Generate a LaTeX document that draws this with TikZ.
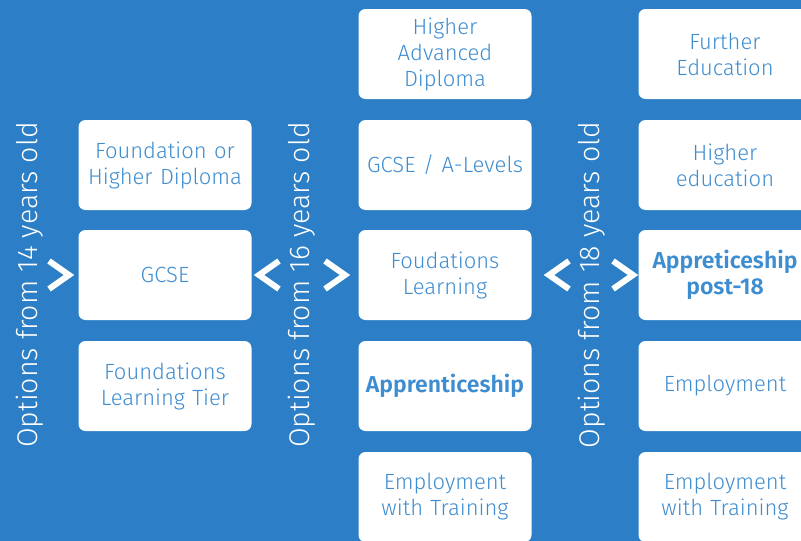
\documentclass[tikz,border=0pt]{standalone}
\usepackage{fontspec}
\setmainfont{Fira Sans}[UprightFont={* Light}, BoldFont={* SemiBold}]
\usetikzlibrary{positioning}
\definecolor{board}{RGB}{44,127,198}
\definecolor{optblue}{RGB}{62,141,208}
\tikzset{optbox/.style={fill=white, rounded corners=7pt, minimum width=173pt, minimum height=90pt,
    text width=172pt, align=center, inner sep=0pt, text=optblue, font=\fontsize{22}{26}\selectfont}}
\tikzset{keybox/.style={optbox, font=\fontsize{23}{26}\selectfont\bfseries}}
\tikzset{agelabel/.style={rotate=90, text=white, inner sep=0pt, font=\fontsize{28.5}{30}\selectfont}}
\tikzset{chevron/.style={white, line width=6pt, line join=miter}}

\begin{document}
\begin{tikzpicture}[x=1pt, y=-1pt]
		% Background
		\useasboundingbox (0,0) rectangle (801,541);
		\clip (0,0) rectangle (801,541);
		\fill[board] (0,0) rectangle (801,541);

		% Ages
		\node[agelabel] (age14) at (30,285) {Options from 14 years old};
		\node[agelabel] (age16) at (302,285) {Options from 16 years old};
		\node[agelabel] (age18) at (592,285) {Options from 18 years old};

		% Column 14
		\node[optbox] (fhd) at (165,165) {Foundation or\\Higher Diploma};
		\node[optbox] (gcse) at (165,275) {GCSE};
		\node[optbox] (flt) at (165,386) {Foundations\\Learning Tier};

		% Column 16
		\node[optbox] (had) at (445,54) {Higher\\Advanced\\Diploma};
		\node[optbox] (alev) at (445,165) {GCSE / A-Levels};
		\node[optbox] (fl) at (445,275) {Foudations\\Learning};
		\node[keybox] (app) at (445,386) {Apprenticeship};
		\node[optbox] (ewt) at (445,497) {Employment\\with Training};

		% Column 18
		\node[optbox] (fe) at (725,54) {Further\\Education};
		\node[optbox] (he) at (725,165) {Higher\\education};
		\node[keybox] (app18) at (725,275) {Appreticeship\\post-18};
		\node[optbox] (emp) at (725,386) {Employment};
		\node[optbox] (ewt18) at (725,497) {Employment\\with Training};

		% Chevrons
		\draw[chevron] (49,261) -- (69,275) -- (49,289);
		\draw[chevron] (279,261) -- (259,275) -- (279,289);
		\draw[chevron] (325,261) -- (345,275) -- (325,289);
		\draw[chevron] (569,261) -- (549,275) -- (569,289);
		\draw[chevron] (613,261) -- (633,275) -- (613,289);
	\end{tikzpicture}
\end{document}
